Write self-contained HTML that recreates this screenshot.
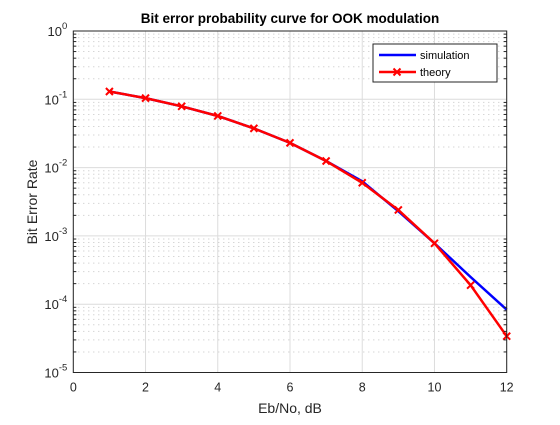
<!DOCTYPE html>
<html><head><meta charset="utf-8"><style>
body{margin:0;background:#fff;}
svg text{font-family:"Liberation Sans",sans-serif;}
</style></head><body>
<svg id="chart" width="560" height="420" viewBox="0 0 560 420" xmlns="http://www.w3.org/2000/svg">
<rect x="0" y="0" width="560" height="420" fill="#fff"/>
<rect x="73.3" y="31" width="433.4" height="341.5" fill="#fff"/>
<g id="grid"></g>
<g id="series"></g>
<rect x="73.3" y="31" width="433.4" height="341.5" fill="none" stroke="#262626" stroke-width="1"/>
<g id="ticks"></g>
<text x="290" y="23" text-anchor="middle" font-size="13.5" font-weight="bold" fill="#000">Bit error probability curve for OOK modulation</text>
<text x="290" y="413" text-anchor="middle" font-size="14" fill="#262626">Eb/No, dB</text>
<text transform="translate(37,202) rotate(-90)" text-anchor="middle" font-size="14" fill="#262626">Bit Error Rate</text>
<g>
<rect x="373" y="44" width="124" height="38" fill="#fff" stroke="#262626" stroke-width="1"/>
<line x1="379" y1="55" x2="416" y2="55" stroke="#0000ff" stroke-width="2.5"/>
<text x="420" y="59" font-size="11" fill="#000">simulation</text>
<line x1="379" y1="72" x2="416" y2="72" stroke="#ff0000" stroke-width="2.5"/>
<path d="M393.5,68.5 L400.5,75.5 M393.5,75.5 L400.5,68.5" stroke="#ff0000" stroke-width="2"/>
<text x="420" y="76" font-size="11" fill="#000">theory</text>
</g>
</svg>
<script>
const ebno = [1,2,3,4,5,6,7,8,9,10,11,12];
const simulation = [0.13,0.104,0.079,0.057,0.0375,0.023,0.0125,0.0063,0.0023,0.00078,0.00025,0.000083];
const theory = [0.13,0.104,0.079,0.057,0.0375,0.023,0.0125,0.006,0.0024,0.00078,0.00019,0.000034];
const xTicks = [0,2,4,6,8,10,12];
const yDecades = [0,-1,-2,-3,-4,-5];
const L=73.3,R=506.7,T=31,B=372.5;
const xs = v => L + (v-0)/(12-0)*(R-L);
const ys = v => T + (0-Math.log10(v))/5*(B-T);
const NS="http://www.w3.org/2000/svg";
function mk(tag,attrs,parent){const e=document.createElementNS(NS,tag);for(const k in attrs)e.setAttribute(k,attrs[k]);parent.appendChild(e);return e;}
const grid=document.getElementById('grid'),ticks=document.getElementById('ticks'),ser=document.getElementById('series');
for(let d=-5;d<0;d++){for(let m=2;m<=9;m++){const y=ys(m*Math.pow(10,d));
const g=mk('line',{x1:L,x2:R,y1:y,y2:y,stroke:'#c4c4c4','stroke-width':1,'stroke-dasharray':'1,4'},grid);


const t1=mk('line',{x1:L,x2:L+3,y1:y,y2:y,stroke:'#262626','stroke-width':1},ticks);


const t2=mk('line',{x1:R-3,x2:R,y1:y,y2:y,stroke:'#262626','stroke-width':1},ticks);


}}
yDecades.forEach(d=>{const y=ys(Math.pow(10,d));
const g=mk('line',{x1:L,x2:R,y1:y,y2:y,stroke:'#dcdcdc','stroke-width':1},grid);


const t=mk('text',{x:L-6,y:y+5,'text-anchor':'end','font-size':13,fill:'#262626'},ticks);


t.textContent='10';
const s=mk('tspan',{dy:-7,'font-size':9.5},t);s.textContent=String(d);
});
xTicks.forEach(v=>{const x=xs(v);
const g=mk('line',{x1:x,x2:x,y1:T,y2:B,stroke:'#dcdcdc','stroke-width':1},grid);


const t=mk('text',{x:x,y:B+19,'text-anchor':'middle','font-size':12.5,fill:'#262626'},ticks);


t.textContent=String(v);
});
function pts(arr){return ebno.map((e,i)=>xs(e).toFixed(1)+','+ys(arr[i]).toFixed(1)).join(' ');}
const sl=mk('polyline',{points:pts(simulation),fill:'none',stroke:'#0000ff','stroke-width':2.5},ser);


const tl=mk('polyline',{points:pts(theory),fill:'none',stroke:'#ff0000','stroke-width':2.5},ser);


ebno.forEach((e,i)=>{const x=xs(e),y=ys(theory[i]);
const p=mk('path',{d:`M${x-3.5},${y-3.5} L${x+3.5},${y+3.5} M${x-3.5},${y+3.5} L${x+3.5},${y-3.5}`,stroke:'#ff0000','stroke-width':2},ser);


});
</script>
</body></html>
